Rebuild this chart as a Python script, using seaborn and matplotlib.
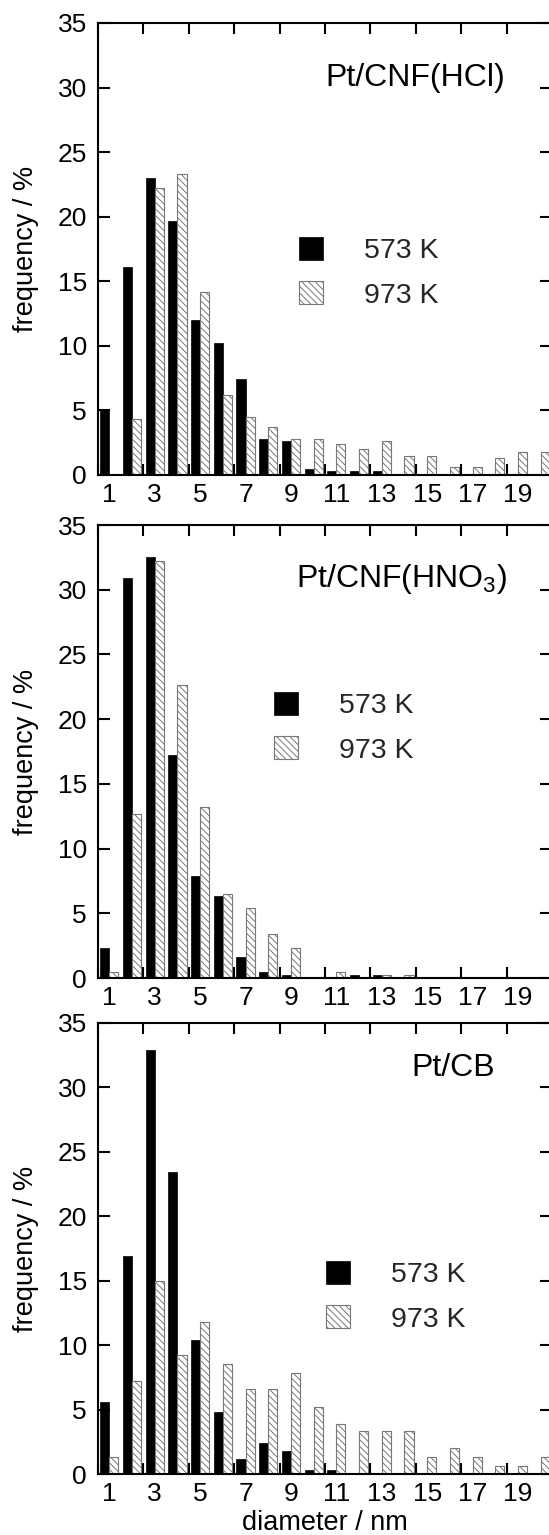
import numpy as np
import pandas as pd
import matplotlib
matplotlib.use("Agg")
import matplotlib.pyplot as plt
import seaborn as sns
from matplotlib.patches import Patch
from matplotlib.ticker import FixedLocator, FixedFormatter, NullFormatter

# ---------------- data ----------------
diameters = list(range(1, 21))
temps = ["573 K", "973 K"]
tick_labels = ["1", "3", "5", "7", "9", "11", "13", "15", "17", "19"]

hcl_573 = [5.0, 16.1, 23.0, 19.7, 12.0, 10.2, 7.4, 2.8, 2.6, 0.5,
           0.3, 0.3, 0.3, 0, 0, 0, 0, 0, 0, 0]
hcl_973 = [0, 4.3, 22.2, 23.3, 14.2, 6.2, 4.5, 3.7, 2.8, 2.8,
           2.4, 2.0, 2.6, 1.5, 1.5, 0.6, 0.6, 1.3, 1.8, 1.8]
hno3_573 = [2.3, 30.9, 32.5, 17.2, 7.9, 6.3, 1.6, 0.5, 0.2, 0,
            0, 0.2, 0.2, 0, 0, 0, 0, 0, 0, 0]
hno3_973 = [0.5, 12.7, 32.2, 22.6, 13.2, 6.5, 5.4, 3.4, 2.3, 0,
            0.5, 0, 0.25, 0.25, 0, 0, 0, 0, 0, 0]
cb_573 = [5.6, 16.9, 32.9, 23.4, 10.4, 4.8, 1.2, 2.4, 1.8, 0.3,
          0.3, 0, 0, 0, 0, 0, 0, 0, 0, 0]
cb_973 = [1.3, 7.2, 15.0, 9.2, 11.8, 8.5, 6.6, 6.6, 7.8, 5.2,
          3.9, 3.3, 3.3, 3.3, 1.3, 2.0, 1.3, 0.65, 0.65, 1.3]

titles = ["Pt/CNF(HCl)", "Pt/CNF(HNO$_3$)", "Pt/CB"]
series = [(hcl_573, hcl_973), (hno3_573, hno3_973), (cb_573, cb_973)]

# ---------------- style ----------------
sns.set_theme(style="white")
plt.rcParams["font.family"] = ["Liberation Sans", "DejaVu Sans"]
plt.rcParams["mathtext.default"] = "regular"
plt.rcParams["hatch.linewidth"] = 0.7

GRAY = "#777777"
HATCH = "\\\\\\\\\\"

W, H = 549, 1535
fig = plt.figure(figsize=(W / 100, H / 100), dpi=100)

# axes boxes in pixels: (left, top, right, bottom)
boxes = [(98, 23, 552, 475), (98, 525, 552, 978), (98, 1023, 552, 1474)]
title_pos = [(505, 86), (507, 587), (495, 1076)]   # right edge, baseline (px)
legend_pos = [(299, 240), (274, 695), (326, 1264)]  # top-left of first handle (px)

TICK_FS = 19
LABEL_FS = 19.5
TITLE_FS = 23
LEG_FS = 20.5

for i, ((v573, v973), box) in enumerate(zip(series, boxes)):
    l, t, r, b = box
    ax = fig.add_axes([l / W, (H - b) / H, (r - l) / W, (b - t) / H])
    df = pd.DataFrame({
        "diameter": diameters * 2,
        "temperature": [temps[0]] * len(diameters) + [temps[1]] * len(diameters),
        "frequency": list(v573) + list(v973),
    })
    sns.barplot(data=df, x="diameter", y="frequency", hue="temperature",
                order=diameters, hue_order=temps, palette=["black", "white"],
                saturation=1, width=0.8, dodge=True, errorbar=None,
                legend=False, ax=ax)
    for bar in ax.containers[0]:
        bar.set_facecolor("black")
        bar.set_edgecolor("black")
        bar.set_linewidth(0.5)
    for bar in ax.containers[1]:
        bar.set_facecolor("white")
        bar.set_edgecolor(GRAY)
        bar.set_hatch(HATCH)
        bar.set_linewidth(0.8)

    ax.set_xlim(-0.5, 19.5)
    ax.set_ylim(0, 35)
    ax.xaxis.set_major_locator(FixedLocator(np.arange(-0.5, 20, 2)))
    ax.xaxis.set_major_formatter(NullFormatter())
    ax.xaxis.set_minor_locator(FixedLocator(np.arange(0, 20, 2)))
    ax.xaxis.set_minor_formatter(FixedFormatter(tick_labels))
    ax.tick_params(axis="x", which="major", direction="in", top=True,
                   bottom=True, length=8, width=1.5, color="black")
    ax.tick_params(axis="x", which="minor", length=0, labelsize=TICK_FS,
                   pad=6, labelcolor="black")
    ax.set_yticks(range(0, 36, 5))
    ax.tick_params(axis="y", direction="in", left=True, right=True,
                   length=8.5, width=1.5, labelsize=TICK_FS, pad=8,
                   color="black", labelcolor="black")
    for side in ["left", "top", "bottom"]:
        ax.spines[side].set_color("black")
        ax.spines[side].set_linewidth(1.5)
    ax.spines["right"].set_visible(False)

    ax.set_xlabel("")
    ax.set_ylabel("frequency / %", fontsize=LABEL_FS, color="black")
    ax.yaxis.set_label_coords((39 - l) / (r - l), 0.5)

    tx, ty = title_pos[i]
    ax.text((tx - l) / (r - l), (b - ty) / (b - t), titles[i],
            transform=ax.transAxes, ha="right", va="baseline",
            fontsize=TITLE_FS, color="black")

    handles = [Patch(facecolor="black", edgecolor="black", linewidth=0.5),
               Patch(facecolor="white", edgecolor=GRAY, hatch=HATCH, linewidth=0.8)]
    lx, ly = legend_pos[i]
    ax.legend(handles, temps, loc="upper left",
              bbox_to_anchor=((lx - l) / (r - l), (b - ly + 3) / (b - t)),
              frameon=False, fontsize=LEG_FS, handlelength=0.85, handleheight=0.85,
              handletextpad=1.45, labelspacing=0.6, borderpad=0, borderaxespad=0)

    if i == 2:
        ax.set_xlabel("diameter / nm", fontsize=LABEL_FS, color="black")
        ax.xaxis.set_label_coords(0.5, (b - 1510) / (b - t))

fig.savefig("out.png", dpi=100)
